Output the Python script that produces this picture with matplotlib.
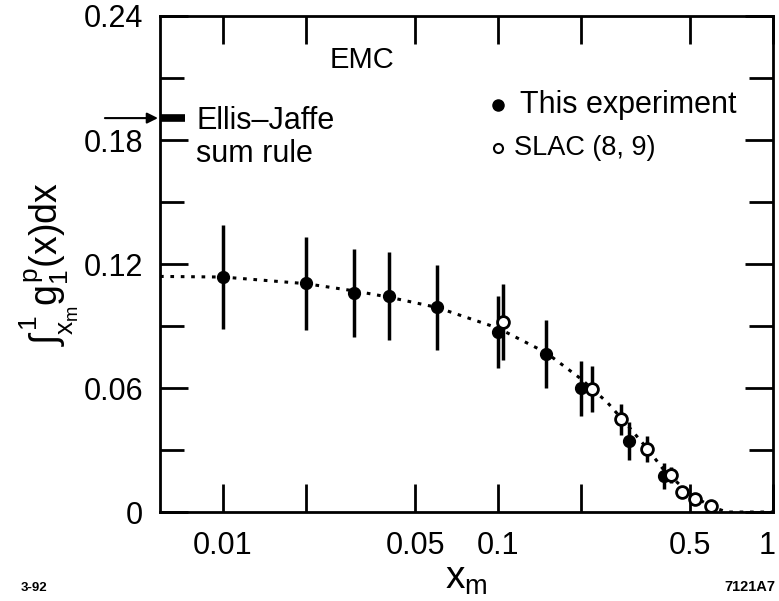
import matplotlib
matplotlib.use("Agg")
import matplotlib.pyplot as plt
import matplotlib.transforms as mtransforms
from matplotlib.ticker import FixedLocator, NullLocator, FixedFormatter

plt.rcParams['font.family'] = ['Liberation Sans', 'DejaVu Sans']
plt.rcParams['mathtext.fontset'] = 'custom'
plt.rcParams['mathtext.rm'] = 'Liberation Sans'
plt.rcParams['mathtext.it'] = 'Liberation Sans'
plt.rcParams['mathtext.sf'] = 'Liberation Sans'

# This experiment (EMC)
emc_x = [0.01, 0.02, 0.03, 0.04, 0.06, 0.10, 0.15, 0.20, 0.30, 0.40]
emc_y = [0.1137, 0.1108, 0.1060, 0.1045, 0.0990, 0.0871, 0.0765, 0.0600, 0.0343, 0.0174]
emc_err = [0.0250, 0.0225, 0.0212, 0.0212, 0.0205, 0.0175, 0.0165, 0.0133, 0.0093, 0.0062]

# SLAC (8, 9)
slac_x = [0.104, 0.219, 0.281, 0.347, 0.427, 0.468, 0.52, 0.596]
slac_y = [0.0920, 0.0595, 0.0450, 0.0305, 0.0179, 0.0097, 0.0063, 0.0029]
slac_err = [0.0185, 0.0112, 0.0075, 0.0065, 0.0040, 0.0, 0.0, 0.0]

# Dotted fit curve
curve_x = [0.0059, 0.01, 0.02, 0.03, 0.04, 0.06, 0.10, 0.15, 0.20, 0.25, 0.30,
           0.35, 0.40, 0.50, 0.60, 0.68, 1.0]
curve_y = [0.1140, 0.1137, 0.1105, 0.1070, 0.1040, 0.0990, 0.0890, 0.0770, 0.0645,
           0.0530, 0.0410, 0.0305, 0.0205, 0.0085, 0.0025, 0.0, 0.0]

ellis_jaffe = 0.1906

xticks = [0.01, 0.02, 0.05, 0.1, 0.2, 0.5, 1.0]
xticklabels = ['0.01', '', '0.05', '0.1', '', '0.5', '1']
yticks = [0, 0.06, 0.12, 0.18, 0.24]
yticklabels = ['0', '0.06', '0.12', '0.18', '0.24']
yminor = [0.03, 0.09, 0.15, 0.21]

fig = plt.figure(figsize=(7.79, 6.01), dpi=100)
ax = fig.add_axes([0.2054, 0.148, 0.7869, 0.8254])
ax.set_xscale('log')
ax.set_xlim(0.0059, 1.0)
ax.set_ylim(0, 0.24)

ax.plot(curve_x, curve_y, color='black', linestyle=(0, (1.2, 2.2)), lw=2.2, zorder=1)

ax.errorbar(emc_x, emc_y, yerr=emc_err, fmt='o', color='black', ms=8.5,
            elinewidth=2.5, capsize=0, zorder=3)
ax.errorbar(slac_x, slac_y, yerr=slac_err, fmt='o', color='black', mfc='white',
            mec='black', mew=2.0, ms=8.5, elinewidth=2.5, capsize=0, zorder=4)

ax.xaxis.set_major_locator(FixedLocator(xticks))
ax.xaxis.set_major_formatter(FixedFormatter(xticklabels))
ax.xaxis.set_minor_locator(NullLocator())
ax.set_yticks(yticks)
ax.set_yticklabels(yticklabels)
ax.yaxis.set_minor_locator(FixedLocator(yminor))

ax.tick_params(axis='both', which='major', direction='in', length=20, width=2,
               labelsize=22, top=True, right=True)
ax.tick_params(axis='y', which='major', pad=12)
ax.tick_params(axis='x', which='major', pad=14)
ax.tick_params(axis='y', which='minor', direction='in', length=17, width=2,
               left=True, right=True)
for s in ax.spines.values():
    s.set_linewidth(2)

# shift the "1" label slightly left so it stays inside the figure
fig.canvas.draw()
lbl = ax.get_xticklabels()[-1]
lbl.set_transform(lbl.get_transform() +
                  mtransforms.ScaledTranslation(-6 / 100, 0, fig.dpi_scale_trans))

ax.set_xlabel(r'$\mathregular{x_m}$', fontsize=28, labelpad=0)
ax.set_ylabel(r'$\int_{x_m}^{1} g_1^p(x)dx$', fontsize=27, labelpad=2)

ax.text(0.33, 0.911, 'EMC', transform=ax.transAxes, fontsize=21, ha='center', va='center')

# Ellis-Jaffe bar and arrow
ax.plot([0.0059, 0.00725], [ellis_jaffe, ellis_jaffe], color='black', lw=5.5,
        solid_capstyle='butt', clip_on=False, zorder=5)
ax.annotate('', xy=(0.0058, ellis_jaffe), xytext=(0.00372, ellis_jaffe),
            xycoords='data', textcoords='data',
            arrowprops=dict(arrowstyle='-|>', color='black', lw=1.5,
                            mutation_scale=16, shrinkA=0, shrinkB=0),
            annotation_clip=False)
ax.text(0.0080, ellis_jaffe - 0.0095, 'Ellis\u2013Jaffe\nsum rule', fontsize=22,
        va='center', ha='left', linespacing=1.12)

# Legend
ax.plot([0.1], [0.197], 'o', color='black', ms=8)
ax.text(0.12, 0.197, 'This experiment', fontsize=22, va='center', ha='left')
ax.plot([0.1], [0.176], 'o', color='black', mfc='white', mew=1.5, ms=6.5)
ax.text(0.114, 0.176, 'SLAC (8, 9)', fontsize=19.5, va='center', ha='left')

fig.text(0.026, 0.012, '3-92', fontsize=9.5, fontweight='bold', ha='left', va='bottom')
fig.text(0.995, 0.012, '7121A7', fontsize=10.5, fontweight='bold', ha='right', va='bottom')

fig.savefig('out.png', dpi=100)
